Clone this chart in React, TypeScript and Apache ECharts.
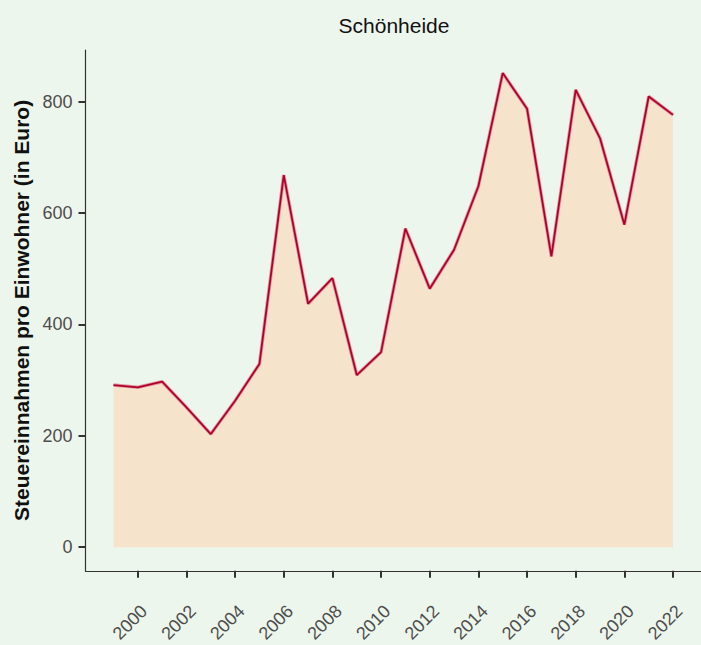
import React, { useEffect, useRef } from "react";
import * as echarts from "echarts";

const years: number[] = [
  1999, 2000, 2001, 2002, 2003, 2004, 2005, 2006, 2007, 2008, 2009, 2010,
  2011, 2012, 2013, 2014, 2015, 2016, 2017, 2018, 2019, 2020, 2021, 2022,
];
const values: number[] = [
  291, 287, 297, 251, 203, 263, 329, 668, 437, 483, 309, 350,
  572, 464, 534, 648, 851, 787, 522, 821, 734, 579, 809, 776,
];
const yTicks: number[] = [0, 200, 400, 600, 800];
const xTicks: number[] = [2000, 2002, 2004, 2006, 2008, 2010, 2012, 2014, 2016, 2018, 2020, 2022];

const title = "Schönheide";
const yName = "Steuereinnahmen pro Einwohner (in Euro)";

export default function App() {
  const ref = useRef<HTMLDivElement>(null);
  useEffect(() => {
    if (!ref.current) return;
    const chart = echarts.init(ref.current, null, { renderer: "svg" });
    const data = years.map((y, i) => [y, values[i]]);
    const font = "Liberation Sans, Arial, sans-serif";
    chart.setOption({
      animation: false,
      backgroundColor: "#EDF6EC",
      textStyle: { fontFamily: font },
      title: {
        text: title,
        left: 394,
        top: 15,
        padding: 0,
        textAlign: "center",
        textStyle: { fontSize: 21, fontWeight: "normal", color: "#111111", fontFamily: font },
      },
      grid: { left: 85.5, top: 50, width: 618, height: 522.7, containLabel: false },
      xAxis: {
        type: "value",
        min: 1997.85,
        max: 2023.15,
        splitLine: { show: false },
        axisLine: { show: true, onZero: false, lineStyle: { color: "#333333", width: 1.2 } },
        axisTick: { show: true, length: 7, customValues: xTicks, lineStyle: { color: "#333333", width: 2 } },
        axisLabel: {
          customValues: xTicks,
          rotate: 45,
          align: "right",
          verticalAlign: "top",
          margin: 31,
          fontSize: 18,
          color: "#4d4d4d",
          fontFamily: font,
          formatter: (v: number) => String(v),
        },
      },
      yAxis: {
        type: "value",
        min: -42.5,
        max: 892.5,
        splitLine: { show: false },
        axisLine: { show: true, onZero: false, lineStyle: { color: "#333333", width: 1.2 } },
        axisTick: { show: true, length: 7, customValues: yTicks, lineStyle: { color: "#333333", width: 2 } },
        axisLabel: {
          customValues: yTicks,
          margin: 13,
          fontSize: 18,
          color: "#4d4d4d",
          fontFamily: font,
        },
        name: yName,
        nameLocation: "middle",
        nameRotate: 90,
        nameGap: 54,
        nameTextStyle: { fontSize: 21, fontWeight: "bold", color: "#111111", fontFamily: font },
      },
      series: [
        {
          type: "line",
          data,
          symbol: "none",
          lineStyle: { color: "#e09aa3", width: 3.5 },
          areaStyle: { color: "#F5E3CC", opacity: 1, origin: 0 },
          z: 2,
        },
        {
          type: "line",
          data,
          symbol: "none",
          lineStyle: { color: "#B0002A", width: 1.8 },
          z: 3,
        },
      ],
    });
    return () => chart.dispose();
  }, []);
  return (
    <div
      ref={ref}
      style={{ position: "fixed", left: 0, top: 0, width: 701, height: 645 }}
    />
  );
}
